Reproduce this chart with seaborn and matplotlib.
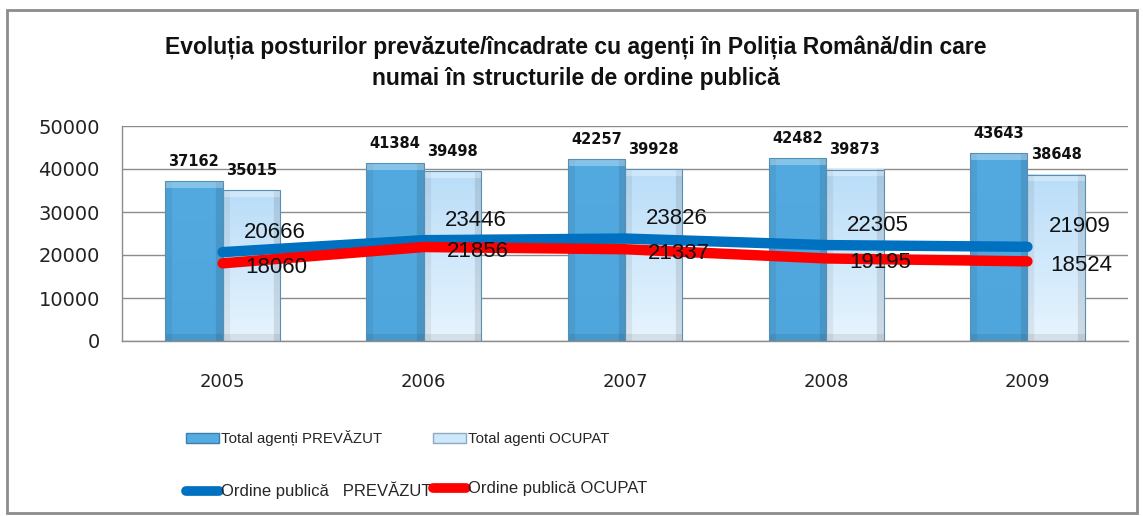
import numpy as np
import pandas as pd
import matplotlib
matplotlib.use("Agg")
import matplotlib.pyplot as plt
import seaborn as sns
from matplotlib.patches import Patch, Rectangle
from matplotlib.lines import Line2D
from matplotlib.colors import to_rgb

# ---------------- data ----------------
years = ["2005", "2006", "2007", "2008", "2009"]
total_prevazut = [37162, 41384, 42257, 42482, 43643]
total_ocupat = [35015, 39498, 39928, 39873, 38648]
op_prevazut = [20666, 23446, 23826, 22305, 21909]
op_ocupat = [18060, 21856, 21337, 19195, 18524]
y_ticks = [0, 10000, 20000, 30000, 40000, 50000]
legend_labels = ["Total agenți PREVĂZUT", "Total agenti OCUPAT",
                 "Ordine publică   PREVĂZUT", "Ordine publică OCUPAT"]
title = ("Evoluția posturilor prevăzute/încadrate cu agenți în Poliția Română/din care\n"
         "numai în structurile de ordine publică")

# ---------------- style ----------------
DARK = "#55ACE0"
LIGHT = "#CDE8FA"
BLUE = "#0070C0"
RED = "#FF0000"
GRID = "#8C8C8C"

sns.set_theme(style="white")
plt.rcParams["font.family"] = ["DejaVu Sans"]
SANS = ["Liberation Sans", "DejaVu Sans"]
W, H = 1143, 516

fig = plt.figure(figsize=(W / 100, H / 100), dpi=100)
ax = fig.add_axes([122 / W, 1 - 341 / H, 1006 / W, 215 / H])

df = pd.DataFrame({
    "year": years * 2,
    "value": total_prevazut + total_ocupat,
    "series": [legend_labels[0]] * len(years) + [legend_labels[1]] * len(years),
})
sns.barplot(data=df, x="year", y="value", hue="series", palette=[DARK, LIGHT],
            width=0.57, gap=0, saturation=1, legend=False, ax=ax,
            edgecolor="#5A8FB5", linewidth=0.8)

px_per_val = 215 / 50000.0


def bar_image(wpx, hpx, top, bot, bevel=7):
    top = np.array(to_rgb(top))
    bot = np.array(to_rgb(bot))
    yy = np.linspace(0, 1, hpx)[:, None]
    col = top[None, :] * (1 - yy) + bot[None, :] * yy
    img = np.repeat(col[:, None, :], wpx, axis=1)
    xs = np.arange(wpx)
    ys = np.arange(hpx)
    img[:, xs < bevel] *= 0.94
    img[:, xs >= wpx - bevel] *= 0.9
    img[ys >= hpx - bevel] *= 0.92
    topm = ys < bevel
    img[topm] = img[topm] * 0.7 + 0.3
    return np.clip(img, 0, 1)


grads = [("#52AAE0", "#4FA6DC"), ("#B9DDF8", "#E7F4FE")]
for cont, (gt, gb) in zip(ax.containers, grads):
    for bar in cont:
        x0, w, h = bar.get_x(), bar.get_width(), bar.get_height()
        img = bar_image(57, max(int(h * px_per_val), 10), gt, gb)
        ax.imshow(img, extent=(x0, x0 + w, 0, h), aspect="auto",
                  origin="upper", zorder=2.4, interpolation="bilinear")
        bar.set_facecolor("none")
        bar.set_zorder(2.6)

for cont, vals in zip(ax.containers, [total_prevazut, total_ocupat]):
    ax.bar_label(cont, labels=[str(v) for v in vals], padding=9,
                 fontsize=10.5, fontweight="bold", color="#111111")

xs = np.arange(len(years))
sns.lineplot(x=xs, y=op_prevazut, color=BLUE, linewidth=7.5, ax=ax,
             solid_capstyle="round", zorder=4)
sns.lineplot(x=xs, y=op_ocupat, color=RED, linewidth=7.5, ax=ax,
             solid_capstyle="round", zorder=4)

for i, v in enumerate(op_prevazut):
    ax.annotate(str(v), (i, v), xytext=(52, 20), textcoords="offset pixels",
                ha="center", va="center", fontsize=16, family=SANS,
                color="#111111", zorder=6)
for i, v in enumerate(op_ocupat):
    ax.annotate(str(v), (i, v), xytext=(54, -4), textcoords="offset pixels",
                ha="center", va="center", fontsize=16, family=SANS,
                color="#111111", zorder=6)

ax.set_xlim(-0.5, len(years) - 0.5)
ax.set_ylim(0, 50000)
ax.set_yticks(y_ticks)
ax.set_yticklabels([str(t) for t in y_ticks])
ax.set_xticks(xs)
ax.set_xticklabels(years)
ax.set_xlabel("")
ax.set_ylabel("")
ax.tick_params(axis="y", length=0, pad=16, labelsize=14, labelcolor="#222222")
ax.tick_params(axis="x", length=0, pad=23, labelsize=13, labelcolor="#222222")
ax.set_axisbelow(True)
ax.yaxis.grid(True, color=GRID, linewidth=1)
ax.xaxis.grid(False)
for s in ["top", "right"]:
    ax.spines[s].set_visible(False)
for s in ["left", "bottom"]:
    ax.spines[s].set_color(GRID)
    ax.spines[s].set_linewidth(1)

fig.text(576 / W, 1 - 63 / H, title, ha="center", va="center", fontsize=16.5,
         fontweight="bold", family=SANS, linespacing=1.4,
         color="#111111")

handles = [
    Patch(facecolor=DARK, edgecolor="#3C7FB0", linewidth=1),
    Line2D([], [], color=BLUE, linewidth=7, solid_capstyle="round"),
    Patch(facecolor=LIGHT, edgecolor="#8FA9C0", linewidth=1),
    Line2D([], [], color=RED, linewidth=7, solid_capstyle="round"),
]
labels = [legend_labels[0], legend_labels[2], legend_labels[1], legend_labels[3]]
leg = fig.legend(handles, labels, loc="upper left", ncol=2,
                 bbox_to_anchor=(186 / W, 1 - 430 / H), frameon=False,
                 borderpad=0, borderaxespad=0, handlelength=2.2,
                 handletextpad=0.15, columnspacing=0.1, labelspacing=2.35,
                 prop={"family": SANS, "size": 10.8})
texts = leg.get_texts()
texts[1].set_fontsize(12)
texts[3].set_fontsize(12)

fig.patches.append(Rectangle((7 / W, 3 / H), 1130 / W, 503 / H,
                             transform=fig.transFigure, fill=False,
                             edgecolor="#8C8C8C", linewidth=2))

fig.savefig("out.png", dpi=100)
